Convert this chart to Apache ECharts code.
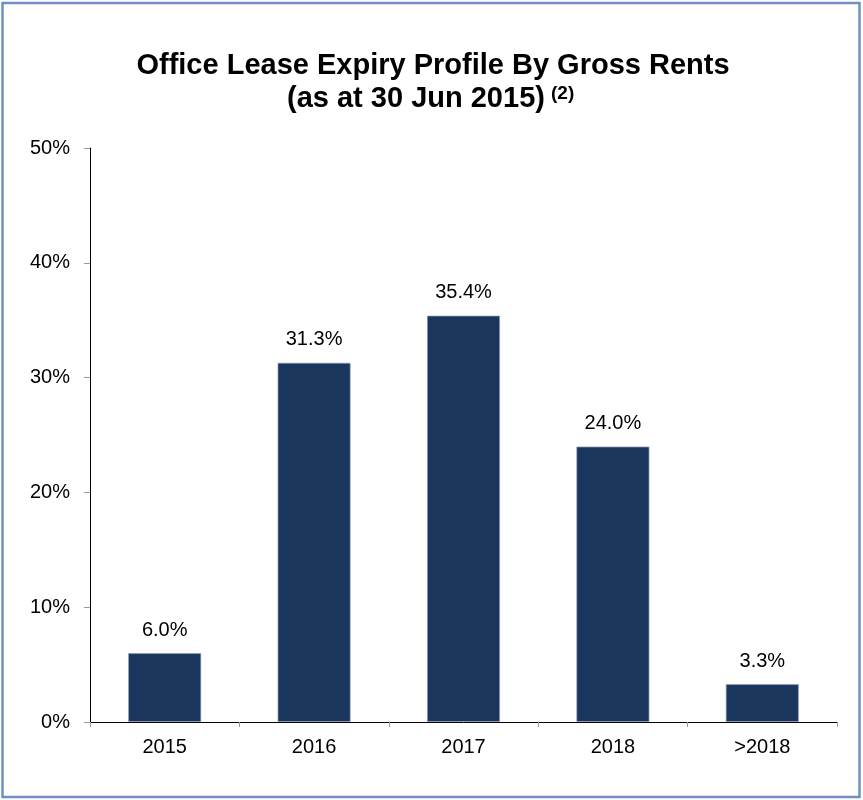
<!DOCTYPE html>
<html>
<head>
<meta charset="utf-8">
<script src="https://cdn.jsdelivr.net/npm/echarts@6/dist/echarts.min.js"></script>
<style>
  html, body { margin: 0; padding: 0; background: #fff; }
  #chart { width: 863px; height: 800px; }
</style>
</head>
<body>
<div id="chart"></div>
<script>
// Lease expiry years and share of gross rents (%)
const categories = ['2015', '2016', '2017', '2018', '>2018'];
const shares = [6.0, 31.3, 35.4, 24.0, 3.3];
const yTicks = [0, 10, 20, 30, 40, 50];

const FONT = '"Liberation Sans", Arial, sans-serif';
const chart = echarts.init(document.getElementById('chart'), null, { renderer: 'canvas' });

chart.setOption({
  backgroundColor: '#ffffff',
  animation: false,
  graphic: [
    {
      type: 'rect',
      shape: { x: 2.5, y: 3, width: 857, height: 794 },
      style: { fill: 'none', stroke: '#7190c4', lineWidth: 2.5 },
      silent: true
    },
    {
      type: 'text',
      style: {
        x: 433, y: 66,
        align: 'center', verticalAlign: 'middle',
        text: 'Office Lease Expiry Profile By Gross Rents',
        font: 'bold 29px ' + FONT,
        fill: '#000'
      }
    },
    {
      type: 'text',
      style: {
        x: 287, y: 99,
        align: 'left', verticalAlign: 'middle',
        text: '(as at 30 Jun 2015)',
        font: 'bold 29px ' + FONT,
        fill: '#000'
      }
    },
    {
      type: 'text',
      style: {
        x: 551, y: 94,
        align: 'left', verticalAlign: 'middle',
        text: '(2)',
        font: 'bold 19px ' + FONT,
        fill: '#000'
      }
    }
  ],
  grid: { left: 90, right: 26, top: 148, bottom: 78, containLabel: false },
  xAxis: {
    type: 'category',
    data: categories,
    axisLine: { lineStyle: { color: '#000', width: 1 } },
    axisTick: { show: true, alignWithLabel: false, length: 5, lineStyle: { color: '#999' } },
    axisLabel: { color: '#000', fontSize: 20, fontFamily: FONT, margin: 15 }
  },
  yAxis: {
    type: 'value',
    min: yTicks[0],
    max: yTicks[yTicks.length - 1],
    interval: 10,
    axisLine: { show: true, lineStyle: { color: '#000', width: 1 } },
    axisTick: { show: true, length: 6, lineStyle: { color: '#999' } },
    splitLine: { show: false },
    axisLabel: { color: '#000', fontSize: 20, fontFamily: FONT, margin: 20, formatter: v => v + '%' }
  },
  series: [{
    type: 'bar',
    data: shares,
    barWidth: '49%',
    itemStyle: { color: '#1b365d', borderColor: 'rgba(140,155,180,0.7)', borderWidth: 1 },
    label: {
      show: true,
      position: 'top',
      distance: 13,
      color: '#000',
      fontSize: 20,
      fontFamily: FONT,
      formatter: p => p.value.toFixed(1) + '%'
    }
  }]
});
</script>
</body>
</html>
